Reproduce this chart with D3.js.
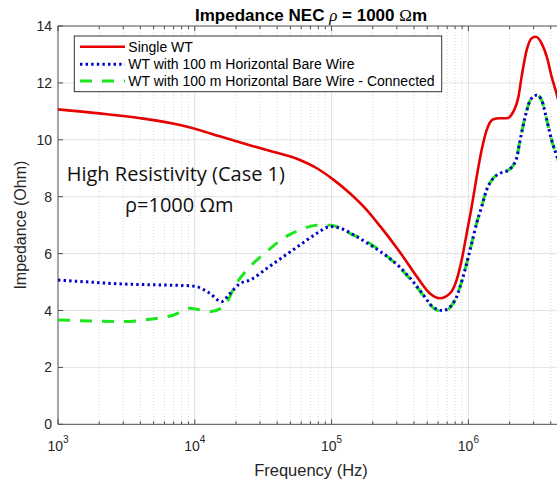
<!DOCTYPE html>
<html><head><meta charset="utf-8">
<script src="https://cdn.jsdelivr.net/npm/d3@7"></script>
<style>body{margin:0;background:#fff;} svg{display:block;}</style>
</head><body><svg id="c" width="557" height="483"></svg>
<script>
// ---- data ----
const seriesNames = ["Single WT", "WT with 100 m Horizontal Bare Wire", "WT with 100 m Horizontal Bare Wire - Connected"];
const freqRed = [1e3, 2e3, 4e3, 7.8e3, 1.09e4, 1.5e4, 2.1e4, 3.36e4, 5.87e4, 7.8e4, 1.03e5, 1.36e5, 1.81e5, 2.3e5, 3.16e5, 4.3e5, 5.24e5, 6.2e5, 7.33e5, 8.2e5, 8.93e5, 9.72e5, 1.057e6, 1.15e6, 1.25e6, 1.36e6, 1.52e6, 1.7e6, 1.91e6, 2.13e6, 2.32e6, 2.45e6, 2.67e6, 2.9e6, 3.1e6, 3.43e6, 3.74e6, 4.06e6, 4.44e6, 5e6];
const zRed    = [11.07, 10.93, 10.76, 10.52, 10.34, 10.13, 9.92, 9.64, 9.29, 9.0, 8.6, 8.12, 7.53, 6.92, 6.05, 5.12, 4.6, 4.43, 4.6, 5.07, 5.77, 6.71, 7.65, 8.7, 9.64, 10.34, 10.72, 10.76, 10.76, 10.99, 11.5, 12.22, 13.16, 13.57, 13.62, 13.39, 12.92, 12.22, 11.57, 10.6];
const freqBlue = [1e3, 1.7e3, 3e3, 5.3e3, 9.2e3, 1.03e4, 1.29e4, 1.57e4, 1.81e4, 2.13e4, 2.53e4, 3.36e4, 4.43e4, 5.87e4, 7.78e4, 9.8e4, 1.16e5, 1.53e5, 2.01e5, 2.66e5, 3.16e5, 4.07e5, 4.6e5, 5.5e5, 6.5e5, 8.0e5, 8.7e5, 9.72e5, 1.057e6, 1.15e6, 1.25e6, 1.36e6, 1.52e6, 1.7e6, 1.97e6, 2.25e6, 2.38e6, 2.6e6, 2.84e6, 3.15e6, 3.43e6, 3.74e6, 4.06e6, 4.44e6, 5e6];
const zBlue    = [5.07, 5.0, 4.93, 4.9, 4.87, 4.84, 4.6, 4.31, 4.6, 4.94, 5.07, 5.48, 5.89, 6.3, 6.71, 6.95, 6.89, 6.59, 6.24, 5.83, 5.52, 4.93, 4.6, 4.13, 4.0, 4.37, 4.84, 5.66, 6.36, 7.07, 7.65, 8.24, 8.65, 8.82, 8.94, 9.35, 9.95, 10.81, 11.4, 11.57, 11.4, 10.7, 9.99, 9.41, 8.6];
const freqGreen = [1e3, 1.7e3, 3e3, 4.7e3, 7e3, 9.2e3, 1.29e4, 1.62e4, 2.02e4, 2.53e4, 3.36e4, 4.43e4, 5.87e4, 7.78e4, 9.8e4, 1.36e5, 1.81e5, 2.39e5, 3.16e5, 4.07e5, 4.6e5, 5.5e5, 6.5e5, 8.0e5, 8.7e5, 9.72e5, 1.057e6, 1.15e6, 1.25e6, 1.36e6, 1.52e6, 1.7e6, 1.97e6, 2.25e6, 2.38e6, 2.6e6, 2.84e6, 3.15e6, 3.43e6, 3.74e6, 4.06e6, 4.44e6, 5e6];
const zGreen    = [3.67, 3.63, 3.61, 3.69, 3.84, 4.08, 3.96, 4.13, 4.96, 5.54, 6.07, 6.54, 6.83, 7.0, 7.0, 6.71, 6.42, 6.01, 5.5, 4.9, 4.58, 4.1, 3.96, 4.37, 4.84, 5.66, 6.36, 7.07, 7.65, 8.24, 8.65, 8.82, 8.94, 9.35, 9.95, 10.81, 11.4, 11.57, 11.4, 10.7, 9.99, 9.41, 8.6];
const yTicks = [0, 2, 4, 6, 8, 10, 12, 14];
const xDecades = [1e3, 1e4, 1e5, 1e6];
const xDecadeExp = ["3", "4", "5", "6"];

// ---- layout ----
const svg = d3.select("#c");
const L = 58, R = 564, T = 26, B = 424.3;
const x = d3.scaleLog().domain([1e3, 5e6]).range([L, R]);
const y = d3.scaleLinear().domain([0, 14]).range([B, T]);
const sans = "'Liberation Sans', Arial, sans-serif";
const axisCol = "#4d4d4d";

svg.append("rect").attr("width", 557).attr("height", 483).attr("fill", "#fff");

// minor x values
const minorX = [];
for (let e = 3; e <= 6; e++) for (let k = 2; k <= 9; k++) { const v = k * Math.pow(10, e); if (v <= 5e6) minorX.push(v); }

const grid = svg.append("g");
grid.selectAll(".hg").data(yTicks.slice(1, -1)).join("line")
  .attr("x1", L).attr("x2", R).attr("y1", d => y(d)).attr("y2", d => y(d))
  .attr("stroke", "#e3e3e3").attr("stroke-width", 1);
grid.selectAll(".mg").data(minorX).join("line")
  .attr("x1", d => x(d)).attr("x2", d => x(d)).attr("y1", T).attr("y2", B)
  .attr("stroke", "#cfcfcf").attr("stroke-width", 0.8).attr("stroke-dasharray", "1,2");
grid.selectAll(".vg").data(xDecades.slice(1)).join("line")
  .attr("x1", d => x(d)).attr("x2", d => x(d)).attr("y1", T).attr("y2", B)
  .attr("stroke", "#dedede").attr("stroke-width", 1);

// axes lines
const ax = svg.append("g").attr("stroke", axisCol).attr("stroke-width", 1);
ax.append("line").attr("x1", L).attr("x2", R).attr("y1", B).attr("y2", B);
ax.append("line").attr("x1", L).attr("x2", R).attr("y1", T).attr("y2", T);
ax.append("line").attr("x1", L).attr("x2", L).attr("y1", T).attr("y2", B);
// ticks
ax.selectAll(".xt").data(xDecades).join("line").attr("x1", d => x(d)).attr("x2", d => x(d)).attr("y1", B).attr("y2", B - 5);
ax.selectAll(".xt2").data(xDecades).join("line").attr("x1", d => x(d)).attr("x2", d => x(d)).attr("y1", T).attr("y2", T + 5);
ax.selectAll(".xm").data(minorX).join("line").attr("x1", d => x(d)).attr("x2", d => x(d)).attr("y1", B).attr("y2", B - 3);
ax.selectAll(".xm2").data(minorX).join("line").attr("x1", d => x(d)).attr("x2", d => x(d)).attr("y1", T).attr("y2", T + 3);
ax.selectAll(".yt").data(yTicks).join("line").attr("x1", L).attr("x2", L + 5).attr("y1", d => y(d)).attr("y2", d => y(d));

// tick labels
svg.append("g").selectAll("text").data(yTicks).join("text")
  .attr("x", 52).attr("y", d => y(d) + 5).attr("text-anchor", "end")
  .attr("font-family", sans).attr("font-size", 14).attr("fill", "#262626").text(d => d);
const xl = svg.append("g").selectAll("text").data(xDecades).join("text")
  .attr("x", d => x(d)).attr("y", 451).attr("text-anchor", "middle")
  .attr("font-family", sans).attr("font-size", 14).attr("fill", "#262626");
xl.append("tspan").text("10");
xl.append("tspan").attr("dy", -8).attr("font-size", 10).text((d, i) => xDecadeExp[i]);

// axis labels
svg.append("text").attr("x", (L + R) / 2).attr("y", 476).attr("text-anchor", "middle")
  .attr("font-family", sans).attr("font-size", 16.5).attr("fill", "#262626").text("Frequency (Hz)");
svg.append("text").attr("transform", `translate(26,${(T + B) / 2}) rotate(-90)`).attr("text-anchor", "middle")
  .attr("font-family", sans).attr("font-size", 16).attr("fill", "#262626").text("Impedance (Ohm)");

// title
const tt = svg.append("text").attr("x", (L + R) / 2).attr("y", 20.7).attr("text-anchor", "middle")
  .attr("font-family", sans).attr("font-size", 17).attr("font-weight", "bold").attr("fill", "#000");
tt.append("tspan").text("Impedance NEC ");
tt.append("tspan").attr("font-family", "'Liberation Serif', serif").attr("font-style", "italic").attr("font-weight", "normal").text("ρ");
tt.append("tspan").text(" = 1000 ");
tt.append("tspan").attr("font-family", "'Liberation Serif', serif").attr("font-weight", "normal").text("Ω");
tt.append("tspan").text("m");

// curves
svg.append("clipPath").attr("id", "pc").append("rect").attr("x", L).attr("y", T - 3).attr("width", R - L).attr("height", B - T + 3);
const line = d3.line().x(d => x(d[0])).y(d => y(d[1])).curve(d3.curveMonotoneX);
const plot = svg.append("g").attr("clip-path", "url(#pc)");
const redStyle = {stroke: "#e60000", width: 2.6, dash: null};
const blueStyle = {stroke: "#0000c8", width: 3, dash: "2.4,3.2"};
const greenStyle = {stroke: "#1ee61e", width: 3, dash: "12,10"};
plot.append("path").attr("d", line(d3.zip(freqGreen, zGreen))).attr("fill", "none")
  .attr("stroke", greenStyle.stroke).attr("stroke-width", greenStyle.width).attr("stroke-dasharray", greenStyle.dash);
plot.append("path").attr("d", line(d3.zip(freqBlue, zBlue))).attr("fill", "none")
  .attr("stroke", blueStyle.stroke).attr("stroke-width", blueStyle.width).attr("stroke-dasharray", blueStyle.dash);
plot.append("path").attr("d", line(d3.zip(freqRed, zRed))).attr("fill", "none")
  .attr("stroke", redStyle.stroke).attr("stroke-width", redStyle.width);

// annotation
svg.append("text").attr("x", 66.7).attr("y", 180.7).attr("font-family", "'Open Sans', sans-serif")
  .attr("font-size", 20).attr("fill", "#111").text("High Resistivity (Case 1)");
svg.append("text").attr("x", 125).attr("y", 212.3).attr("font-family", "'Open Sans', sans-serif")
  .attr("font-size", 20).attr("fill", "#111").text("ρ=1000 Ωm");

// legend
const lg = svg.append("g");
lg.append("rect").attr("x", 74.3).attr("y", 36).attr("width", 441.7 - 74.3).attr("height", 91.7 - 36)
  .attr("fill", "#fff").attr("stroke", "#333").attr("stroke-width", 1);
const lstyles = [redStyle, blueStyle, greenStyle];
const ly = [46.7, 64.3, 81];
seriesNames.forEach((n, i) => {
  const s = lstyles[i];
  lg.append("line").attr("x1", 80).attr("x2", 125).attr("y1", ly[i]).attr("y2", ly[i])
    .attr("stroke", s.stroke).attr("stroke-width", s.width).attr("stroke-dasharray", s.dash);
  lg.append("text").attr("x", 128.3).attr("y", ly[i] + 5).attr("font-family", sans).attr("font-size", 14)
    .attr("fill", "#000").text(n);
});
</script></body></html>
